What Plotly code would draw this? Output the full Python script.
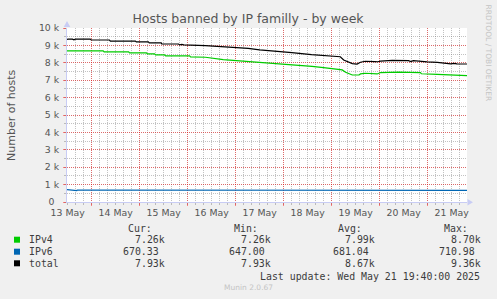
import plotly.graph_objects as go

# ---------------- data ----------------
day_labels = ["13 May", "14 May", "15 May", "16 May", "17 May", "18 May", "19 May", "20 May", "21 May"]
y_tick_vals = [0, 1000, 2000, 3000, 4000, 5000, 6000, 7000, 8000, 9000, 10000]
y_tick_text = ["0\u2002", "1 k", "2 k", "3 k", "4 k", "5 k", "6 k", "7 k", "8 k", "9 k", "10 k"]

# time in days, 0 = 13 May 12:00
t_ipv4 = [-0.014, 0.74, 0.76, 1.27, 1.29, 1.64, 1.66, 1.81, 1.83, 2.02, 2.04, 2.54, 2.56, 2.87, 3.24,
          3.70, 3.97, 4.50, 4.89, 5.09, 5.33, 5.58, 5.72, 5.79, 5.89, 5.93, 6.07, 6.10, 6.20, 6.43,
          6.45, 6.52, 6.76, 6.89, 7.35, 7.37, 7.70, 8.00, 8.05, 8.08, 8.319]
ipv4 = [8690, 8690, 8630, 8630, 8570, 8570, 8510, 8510, 8450, 8450, 8400, 8400, 8340, 8320, 8180,
        8090, 8010, 7940, 7860, 7800, 7720, 7650, 7590, 7460, 7340, 7300, 7300, 7360, 7400, 7400,
        7360, 7440, 7480, 7460, 7440, 7370, 7330, 7300, 7270, 7290, 7260]

t_ipv6 = [-0.014, 0.10, 0.11, 0.19, 0.20, 0.26, 0.27, 0.43, 0.44, 0.68, 0.69, 1.04, 1.05,
          5.84, 5.85, 6.03, 6.04, 8.319]
ipv6 = [711, 690, 650, 650, 690, 690, 655, 655, 690, 690, 650, 650, 685,
        685, 647, 647, 680, 670]

t_total = [-0.014, 0.01, 0.10, 0.13, 0.16, 0.47, 0.49, 0.87, 0.89, 1.41, 1.43, 1.68, 1.70, 1.95,
           1.96, 2.31, 2.33, 2.38, 2.42, 2.87, 3.28, 3.76, 4.00, 4.46, 4.67, 5.08, 5.37, 5.68,
           5.75, 5.85, 5.93, 6.03, 6.10, 6.20, 6.37, 6.40, 6.46, 6.52, 6.76, 7.10, 7.15, 7.20,
           7.49, 7.70, 7.98, 8.04, 8.11, 8.319]
total = [9340, 9360, 9360, 9320, 9360, 9360, 9310, 9310, 9250, 9250, 9200, 9200, 9140, 9140,
         9080, 9080, 9030, 9060, 9030, 8990, 8910, 8830, 8740, 8660, 8580, 8470, 8410, 8350,
         8160, 8030, 7950, 7930, 8030, 8090, 8100, 8070, 8060, 8100, 8140, 8120, 8070, 8120,
         8050, 8030, 7940, 7970, 7940, 7930]

series_names = ["IPv4", "IPv6", "total"]
series_colors = ["#00CC00", "#0066B3", "#000000"]
stat_headers = ["Cur:", "Min:", "Avg:", "Max:"]
stats = [
    ["7.26k", "7.26k", "7.99k", "8.70k"],
    ["670.33", "647.00", "681.04", "710.98"],
    ["7.93k", "7.93k", "8.67k", "9.36k"],
]
title_text = "Hosts banned by IP familly - by week"
y_title = "Number of hosts"
last_update = "Last update: Wed May 21 19:40:00 2025"
munin_ver = "Munin 2.0.67"
rrd_credit = "RRDTOOL / TOBI OETIKER"

# ---------------- layout constants ----------------
W, H = 497, 299
ML, MR, MT, MB = 67, 30, 28, 97
PW = W - ML - MR
PH = H - MT - MB
X0, X1 = -1 / 72, 8 + 460 / 1440


def px(x):
    return (x - ML) / PW


def py(y):
    return (H - MB - y) / PH


TEXT = "#555555"
MAJ = "rgba(255,0,0,0.45)"
MIN = "rgba(120,120,120,0.45)"
AXIS = "#C8CCF4"

fig = go.Figure()
for t, v, name, col in zip([t_ipv4, t_ipv6, t_total], [ipv4, ipv6, total], series_names, series_colors):
    fig.add_trace(go.Scatter(x=t, y=v, mode="lines", name=name,
                             line=dict(color=col, width=1.2), hoverinfo="skip"))

# invisible trace for the label axis
fig.add_trace(go.Scatter(x=[X0], y=[0], xaxis="x2", mode="markers",
                         marker=dict(opacity=0), hoverinfo="skip", showlegend=False))

midnights = [k + 0.5 for k in range(8)]

fig.update_layout(
    width=W, height=H,
    margin=dict(l=ML, r=MR, t=MT, b=MB, pad=0),
    paper_bgcolor="#F0F0F0", plot_bgcolor="#FFFFFF",
    showlegend=False,
    font=dict(family="DejaVu Sans", color=TEXT, size=9.33),
    title=dict(text=title_text, x=248 / W, y=1 - 18.3 / H, xref="container", yref="container",
               xanchor="center", yanchor="middle",
               font=dict(family="DejaVu Sans", size=12.5, color=TEXT)),
    xaxis=dict(range=[X0, X1], tickmode="array", tickvals=midnights, showticklabels=False,
               showgrid=True, gridcolor=MAJ, griddash="1px,1px", gridwidth=1,
               ticks="outside", ticklen=3, tickcolor=MAJ, tickwidth=1,
               minor=dict(dtick=1 / 6, tick0=0, showgrid=True, gridcolor=MIN, griddash="1px,1px",
                          ticks="outside", ticklen=2, tickcolor=MIN),
               zeroline=False, showline=True, linecolor=AXIS, linewidth=1, fixedrange=True),
    xaxis2=dict(range=[X0, X1], overlaying="x", side="bottom", tickmode="array",
                tickvals=list(range(9)), ticktext=day_labels, showgrid=False, zeroline=False,
                ticks="", ticklabelstandoff=4, tickfont=dict(size=9.33, color=TEXT), fixedrange=True),
    yaxis=dict(range=[0, 10000], tickmode="array", tickvals=y_tick_vals, ticktext=y_tick_text,
               showgrid=True, gridcolor=MAJ, griddash="1px,1px", gridwidth=1,
               ticks="outside", ticklen=3, tickcolor=MAJ,
               minor=dict(dtick=500, tick0=0, showgrid=True, gridcolor=MIN, griddash="1px,1px",
                          ticks="outside", ticklen=2, tickcolor=MIN),
               zeroline=False, showline=True, linecolor=AXIS, linewidth=1,
               tickfont=dict(size=9.33, color=TEXT), ticklabelstandoff=2, fixedrange=True),
)

ann = []
# y axis title
ann.append(dict(text=y_title, x=px(11), y=py(115), xref="paper", yref="paper", textangle=-90,
                showarrow=False, font=dict(size=11, color=TEXT, family="DejaVu Sans"),
                xanchor="center", yanchor="middle"))
# rrdtool credit
ann.append(dict(text=rrd_credit, x=px(488.5), y=py(53), xref="paper", yref="paper", textangle=90,
                showarrow=False, font=dict(size=7.5, color="#C4C4C4", family="DejaVu Sans"),
                xanchor="center", yanchor="middle"))

MONO = "DejaVu Sans Mono"
FS = 9.9
CW = 5.95
col_right = [166.7, 273.3, 377.3, 482.7]
row_y = [239.7, 251.7, 263.3]
header_y = 228.0
LEG = "#3C3C3C"

for h, xr in zip(stat_headers, col_right):
    ann.append(dict(text=h, x=px(xr - 13), y=py(header_y), xref="paper", yref="paper",
                    showarrow=False, xanchor="right", yanchor="middle",
                    font=dict(family=MONO, size=FS, color=LEG)))

shapes = []
for i, (name, col) in enumerate(zip(series_names, series_colors)):
    yc = row_y[i]
    shapes.append(dict(type="rect", xref="paper", yref="paper",
                       x0=px(14), x1=px(20), y0=py(yc + 3), y1=py(yc - 3),
                       fillcolor=col, line=dict(width=0)))
    ann.append(dict(text=name, x=px(26.5), y=py(yc), xref="paper", yref="paper",
                    showarrow=False, xanchor="left", yanchor="middle",
                    font=dict(family=MONO, size=FS, color=LEG)))
    for val, xr in zip(stats[i], col_right):
        shift = 0 if val.endswith("k") else CW
        ann.append(dict(text=val, x=px(xr - shift), y=py(yc), xref="paper", yref="paper",
                        showarrow=False, xanchor="right", yanchor="middle",
                        font=dict(family=MONO, size=FS, color=LEG)))

ann.append(dict(text=last_update, x=px(481.7), y=py(276.7), xref="paper", yref="paper",
                showarrow=False, xanchor="right", yanchor="middle",
                font=dict(family=MONO, size=FS, color=LEG)))
ann.append(dict(text=munin_ver, x=px(248), y=py(287), xref="paper", yref="paper",
                showarrow=False, xanchor="center", yanchor="middle",
                font=dict(family="DejaVu Sans", size=7.5, color="#C4C4C4")))

# axis arrows
shapes.append(dict(type="path", xref="paper", yref="paper",
                   path=f"M {px(63.7)} {py(27)} L {px(70.3)} {py(27)} L {px(67)} {py(21)} Z",
                   fillcolor=AXIS, line=dict(width=0)))
shapes.append(dict(type="path", xref="paper", yref="paper",
                   path=f"M {px(467.5)} {py(199)} L {px(467.5)} {py(205.6)} L {px(473)} {py(202.3)} Z",
                   fillcolor=AXIS, line=dict(width=0)))

fig.update_layout(annotations=ann, shapes=shapes)
fig.write_html("out.html")
